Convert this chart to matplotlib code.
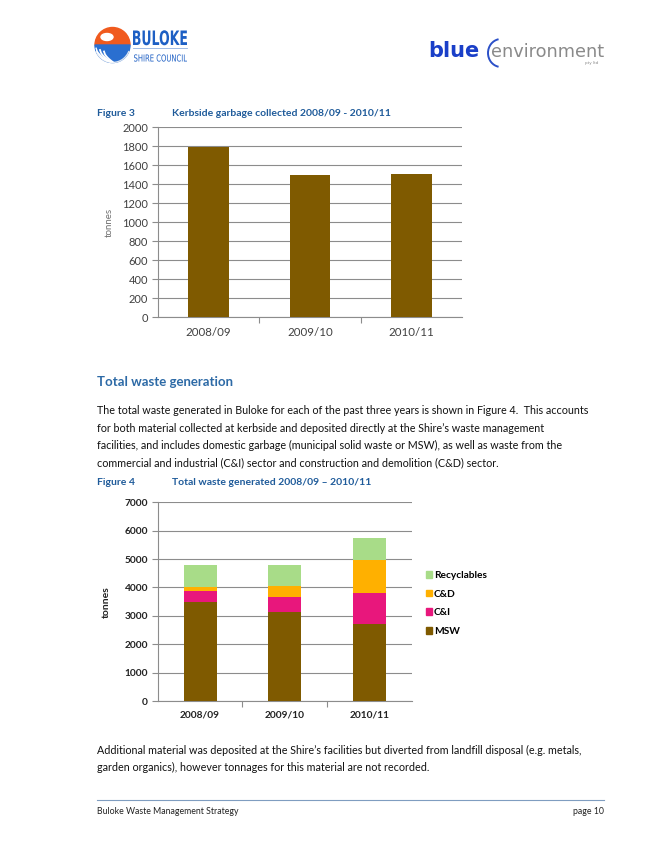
import matplotlib
matplotlib.use("Agg")
import matplotlib.pyplot as plt
import numpy as np
from matplotlib.patches import Patch, Wedge, Arc, Circle, Ellipse, PathPatch
from matplotlib.textpath import TextPath
from matplotlib.font_manager import FontProperties
from matplotlib.transforms import Affine2D

# Figure 3 data
kerb_years = ["2008/09", "2009/10", "2010/11"]
kerb_tonnes = [1790, 1495, 1510]

# Figure 4 data
waste_years = ["2008/09", "2009/10", "2010/11"]
msw = [3480, 3130, 2710]
c_and_i = [400, 520, 1100]
c_and_d = [150, 390, 1150]
recyclables = [760, 750, 790]

W, H = 661, 855
plt.rcParams["font.family"] = ["Lato", "DejaVu Sans"]

fig = plt.figure(figsize=(W / 100, H / 100), dpi=100)
fig.patch.set_facecolor("white")


def px_axes(left, top, right, bottom):
    return fig.add_axes([left / W, 1 - bottom / H, (right - left) / W, (bottom - top) / H])


def txt(x, y, s, **kw):
    kw.setdefault("va", "center")
    fig.text(x / W, 1 - y / H, s, **kw)


BLUE = "#1f5b9a"
BROWN = "#7f5a00"

# ---- header logos ----
logo = px_axes(0, 0, W, 90)
logo.set_xlim(0, W)
logo.set_ylim(90, 0)
logo.axis("off")
logo.set_aspect("equal")


def squeezed_text(x, baseline, s, width, cap, color, weight="normal"):
    # text drawn as a path so it can be narrowed like the condensed logo type
    tp = TextPath((0, 0), s, size=10, prop=FontProperties(family="DejaVu Sans", weight=weight))
    bb = tp.get_extents()
    tr = (Affine2D().translate(-bb.x0, 0).scale(width / bb.width, -cap / 7.29)
          .translate(x, baseline) + logo.transData)
    logo.add_patch(PathPatch(tp, transform=tr, facecolor=color, edgecolor="none"))


clip = Circle((112.5, 45), 17.5, transform=logo.transData)
logo.add_patch(Wedge((112.5, 45), 17.5, 180, 360, color="#f05a1e"))
logo.add_patch(Ellipse((107, 37), 12, 7, color="white"))
logo.add_patch(Wedge((112.5, 45), 17.5, 0, 180, color="#2a6fd0"))
# white stripes through the blue half
for k in range(4):
    t = np.linspace(0, 1, 30)
    xs = 92 + k * 4 + t * 30
    ys = 47 + k * 1.5 + (t ** 0.6) * 22
    ln, = logo.plot(xs, ys, color="white", lw=1.3)
    ln.set_clip_path(clip)
logo.add_patch(Arc((112.5, 45), 35, 35, theta1=20, theta2=160, color="#d8e2f0", lw=1))
squeezed_text(133, 45, "BULOKE", 54, 14.5, "#1d5fc4", weight="bold")
squeezed_text(134, 61.5, "SHIRE COUNCIL", 53, 7, "#1d5fc4")
logo.plot([133, 187], [48.5, 48.5], color="#8fb0e0", lw=0.6)

txt(428, 51, "blue", fontsize=15, fontweight="bold", color="#1a3fc8", family="DejaVu Sans")
logo.add_patch(Arc((501, 53), 26, 28, theta1=100, theta2=260, color="#2b50c8", lw=1.4))
txt(491, 52, "environment", fontsize=12.8, color="#8a8a8a", family="DejaVu Sans")
txt(585, 63, "pty ltd", fontsize=3, color="#8a8a8a", family="DejaVu Sans")

# ---- Figure 3 ----
txt(97, 113, "Figure 3", fontsize=7.5, fontweight="bold", color=BLUE)
txt(172, 113, "Kerbside garbage collected 2008/09 - 2010/11", fontsize=7.5,
    fontweight="bold", color=BLUE)

ax1 = px_axes(158, 127.5, 462, 317)
x1 = np.arange(len(kerb_years))
ax1.bar(x1, kerb_tonnes, width=0.4, color=BROWN, zorder=3)
ax1.set_xlim(-0.5, 2.5)
ax1.set_ylim(0, 2000)
ax1.set_yticks(np.arange(0, 2001, 200))
ax1.yaxis.grid(True, color="#8c8c8c", lw=0.8)
ax1.set_axisbelow(True)
ax1.set_xticks([0.5, 1.5], minor=False)
ax1.set_xticklabels([])
ax1.set_xticks(x1, minor=True)
ax1.set_xticklabels(kerb_years, minor=True)
ax1.tick_params(axis="x", which="minor", length=0, pad=7, labelsize=8.3, labelcolor="#404040")
ax1.tick_params(axis="x", which="major", length=4, color="#8c8c8c", direction="out")
ax1.tick_params(axis="y", length=4, color="#8c8c8c", labelsize=8, labelcolor="#404040", pad=3)
for s in ["top", "right"]:
    ax1.spines[s].set_visible(False)
ax1.spines["left"].set_color("#8c8c8c")
ax1.spines["bottom"].set_color("#8c8c8c")
ax1.set_ylabel("tonnes", fontsize=7, color="#707070", labelpad=6)

# ---- text ----
txt(97, 382, "Total waste generation", fontsize=9.5, fontweight="bold", color="#2d6aa6")
body = [
    "The total waste generated in Buloke for each of the past three years is shown in Figure 4.  This accounts",
    "for both material collected at kerbside and deposited directly at the Shire\u2019s waste management",
    "facilities, and includes domestic garbage (municipal solid waste or MSW), as well as waste from the",
    "commercial and industrial (C&I) sector and construction and demolition (C&D) sector.",
]
for i, line in enumerate(body):
    txt(97, 411 + i * 17.4, line, fontsize=7.75, color="#111111")

# ---- Figure 4 ----
txt(97, 482, "Figure 4", fontsize=7.5, fontweight="bold", color=BLUE)
txt(172, 482, "Total waste generated 2008/09 \u2013 2010/11", fontsize=7.5,
    fontweight="bold", color=BLUE)

ax2 = px_axes(157.7, 502.3, 411.7, 701)
x2 = np.arange(len(waste_years))
series = [("MSW", msw, BROWN), ("C&I", c_and_i, "#e8177c"),
          ("C&D", c_and_d, "#ffb000"), ("Recyclables", recyclables, "#a8dc88")]
bottom = np.zeros(len(waste_years))
for name, vals, col in series:
    ax2.bar(x2, vals, bottom=bottom, width=0.39, color=col, zorder=3, label=name)
    bottom += np.array(vals)
ax2.set_xlim(-0.5, 2.5)
ax2.set_ylim(0, 7000)
ax2.set_yticks(np.arange(0, 7001, 1000))
ax2.yaxis.grid(True, color="#8c8c8c", lw=0.8)
ax2.set_axisbelow(True)
ax2.set_xticks([0.5, 1.5])
ax2.set_xticklabels([])
ax2.set_xticks(x2, minor=True)
ax2.set_xticklabels(waste_years, minor=True)
ax2.tick_params(axis="x", which="minor", length=0, pad=7, labelsize=7.3, labelcolor="#222222")
ax2.tick_params(axis="x", which="major", length=4, color="#8c8c8c", direction="out")
ax2.tick_params(axis="y", length=4, color="#8c8c8c", labelsize=7.3, labelcolor="#222222", pad=3)
for lab in ax2.get_yticklabels() + ax2.get_xticklabels(minor=True):
    lab.set_fontweight("bold")
for s in ["top", "right"]:
    ax2.spines[s].set_visible(False)
ax2.spines["left"].set_color("#8c8c8c")
ax2.spines["bottom"].set_color("#8c8c8c")
ax2.set_ylabel("tonnes", fontsize=7.5, fontweight="bold", color="#222222", labelpad=10)

handles = [Patch(color=c) for _, _, c in series][::-1]
labels = [n for n, _, _ in series][::-1]
fig.legend(handles, labels, loc="upper left", bbox_to_anchor=(426 / W, 1 - 571 / H),
           frameon=False, handlelength=0.6, handleheight=0.6,
           handletextpad=0.2, labelspacing=0.95, borderaxespad=0, borderpad=0,
           prop={"weight": "bold", "size": 7.3})

# ---- closing text and footer ----
closing = [
    "Additional material was deposited at the Shire\u2019s facilities but diverted from landfill disposal (e.g. metals,",
    "garden organics), however tonnages for this material are not recorded.",
]
for i, line in enumerate(closing):
    txt(97, 750 + i * 17.4, line, fontsize=7.75, color="#111111")

foot = px_axes(0, 795, W, 805)
foot.set_xlim(0, W)
foot.set_ylim(0, 1)
foot.axis("off")
foot.plot([97, 604], [0.5, 0.5], color="#7f9dc0", lw=0.8)
txt(97, 811, "Buloke Waste Management Strategy", fontsize=6.3, color="#222222")
txt(604, 811, "page 10", fontsize=6.3, color="#222222", ha="right")

fig.savefig("out.png", dpi=100, facecolor="white")
